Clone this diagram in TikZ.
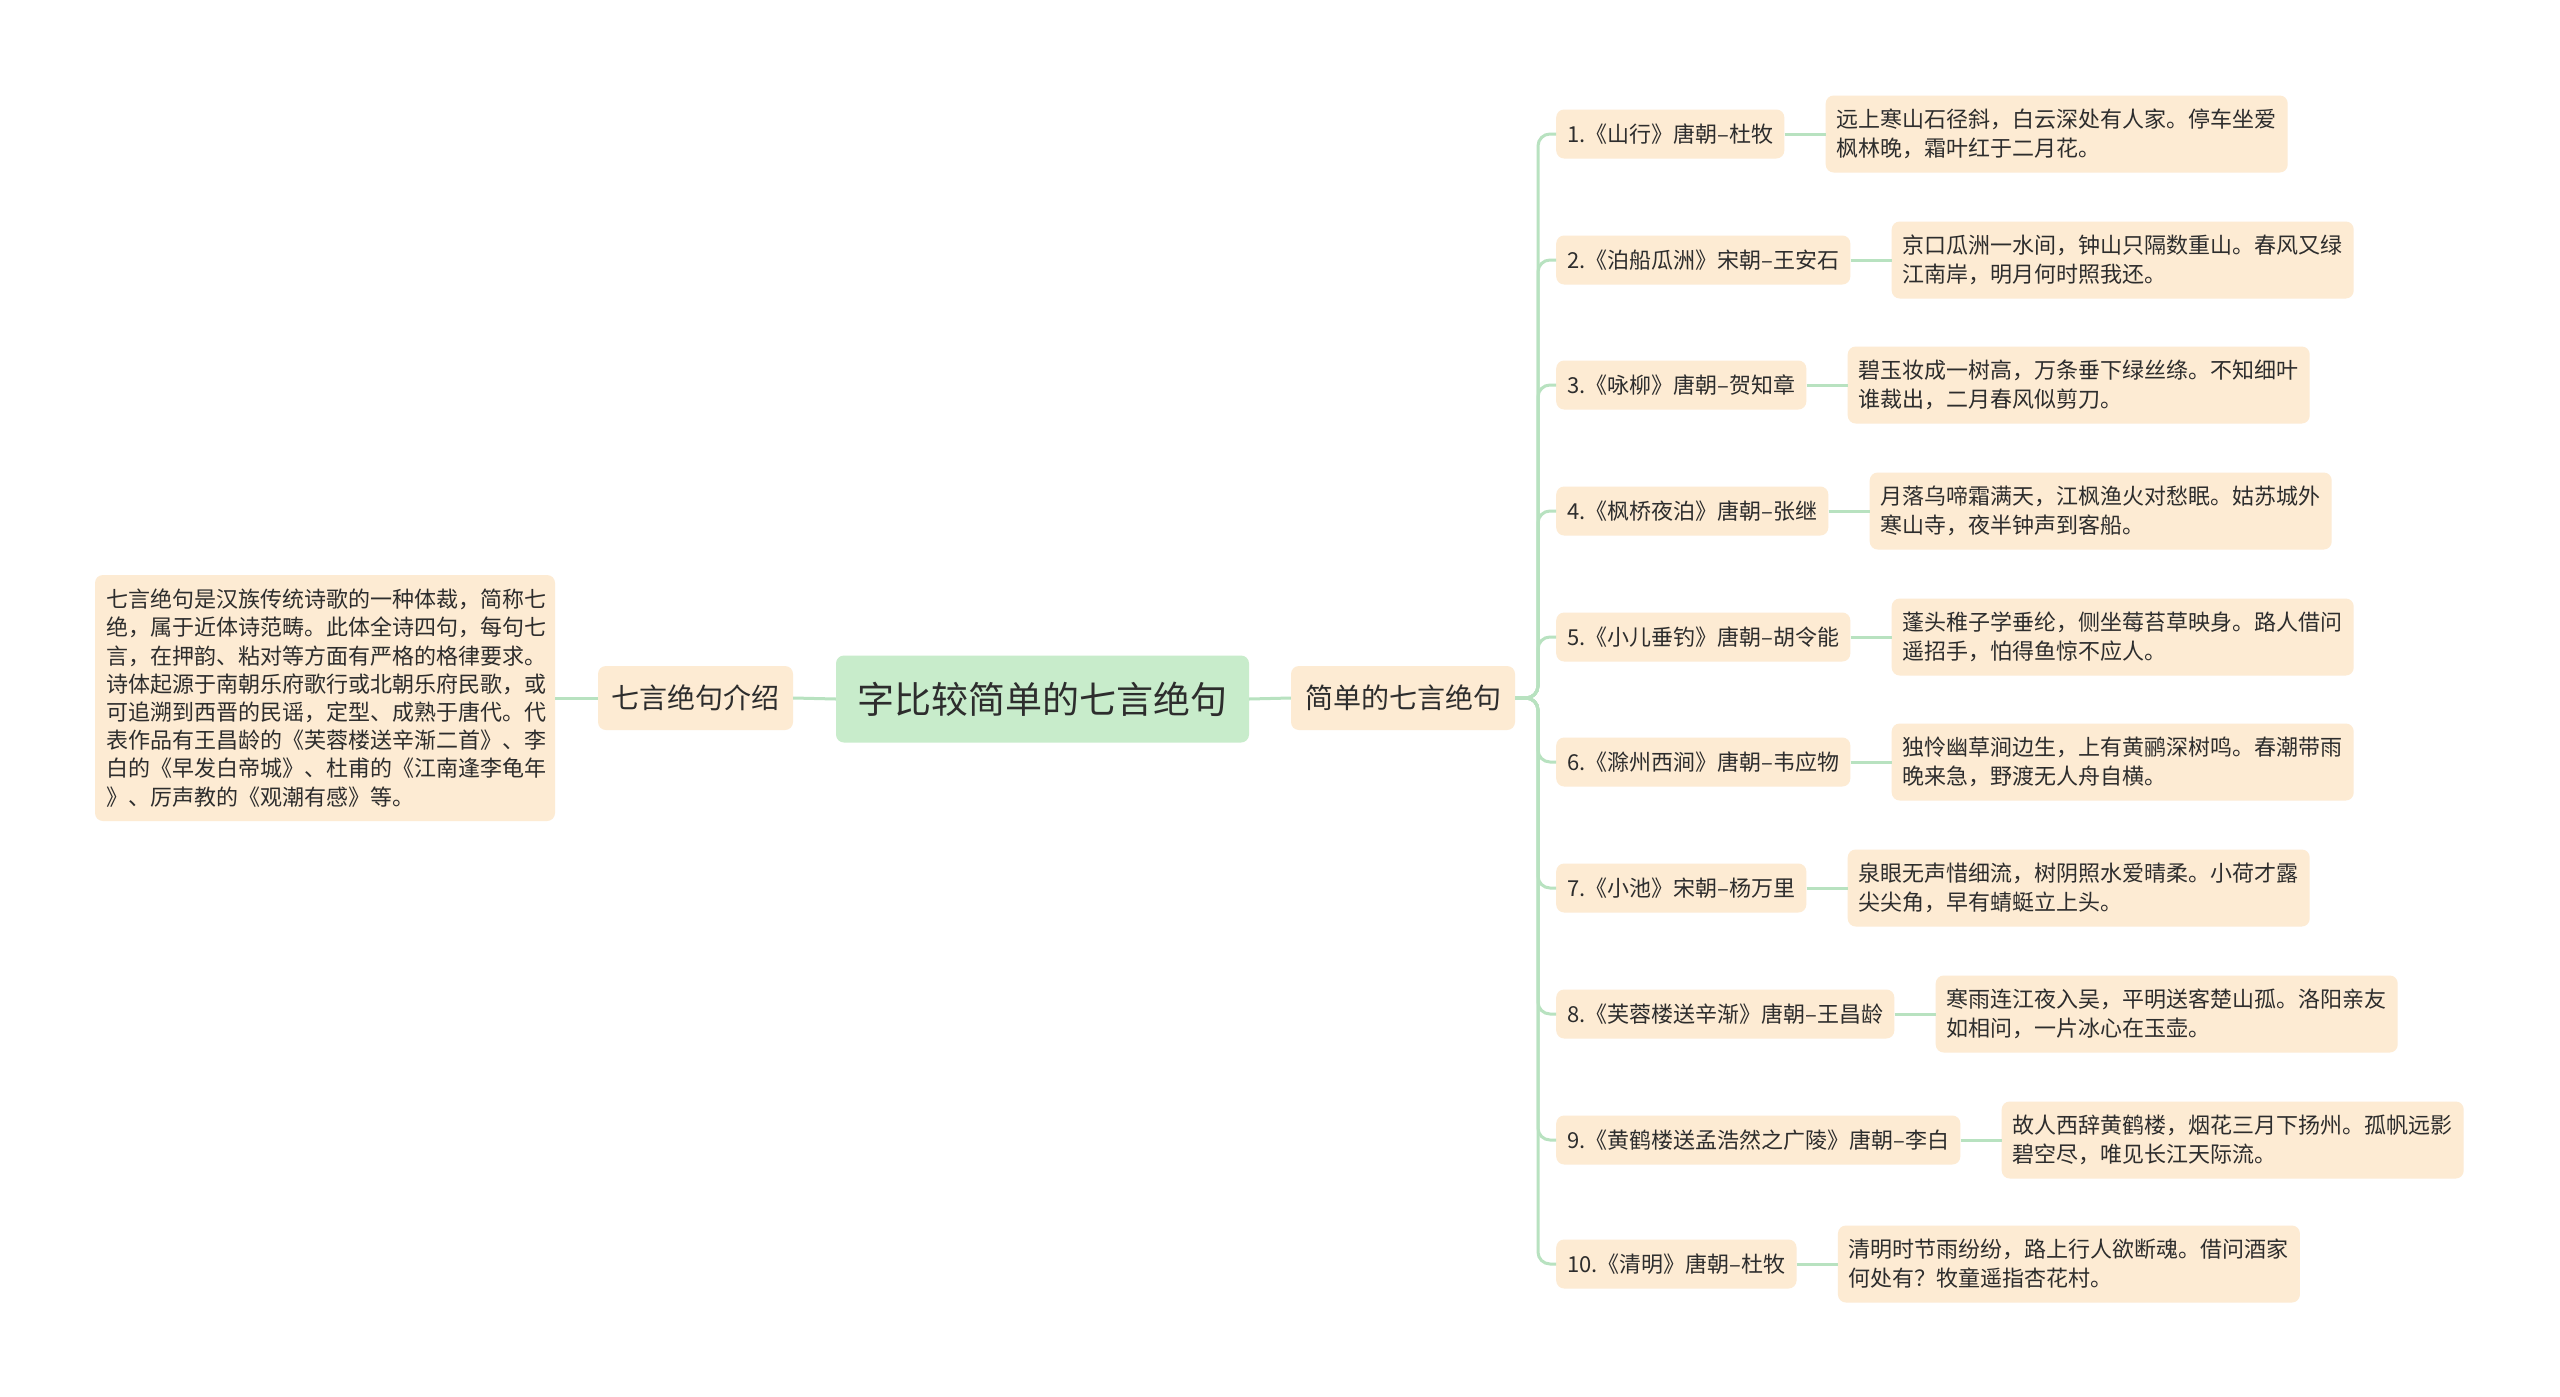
\documentclass[tikz,border=0pt]{standalone}
\usepackage{fontspec}
\setmainfont{Noto Sans CJK SC}
\definecolor{lineg}{RGB}{184,226,192}
\definecolor{peachc}{RGB}{253,235,211}
\definecolor{rootc}{RGB}{200,236,203}
\definecolor{txt}{RGB}{45,45,45}
\begin{document}
\begin{tikzpicture}[x=1pt,y=-1pt,
  conn/.style={draw=lineg, line width=3pt, rounded corners=12pt},
  pbox/.style={fill=peachc, rounded corners=8pt, text=txt},
  itembox/.style={pbox, anchor=west, minimum height=49pt, inner xsep=11pt, inner ysep=0pt, font=\fontsize{22}{26}\selectfont},
  poembox/.style={pbox, anchor=west, minimum height=77pt, text width=441pt, inner xsep=10.5pt, inner ysep=6pt, align=left, font=\fontsize{22}{29}\selectfont},
  midbox/.style={pbox, minimum height=64pt, inner sep=0pt, font=\fontsize{28}{34}\selectfont}]
\useasboundingbox (0,0) rectangle (2560,1397);
\fill[white] (0,0) rectangle (2560,1397);

\node[fill=rootc, rounded corners=8pt, text=txt, minimum width=413pt, minimum height=87pt, inner sep=0pt, font=\fontsize{37}{44}\selectfont] (root) at (1042.5,699) {字比较简单的七言绝句};
\node[midbox, minimum width=195pt] (lm) at (695.5,698) {七言绝句介绍};
\node[midbox, minimum width=224pt] (rm) at (1403,698) {简单的七言绝句};
\node[pbox, minimum width=460pt, minimum height=246pt, text width=438pt, inner xsep=11pt, align=left, font=\fontsize{22}{28.2}\selectfont] (desc) at (325,698) {七言绝句是汉族传统诗歌的一种体裁，简称七\\绝，属于近体诗范畴。此体全诗四句，每句七\\言，在押韵、粘对等方面有严格的格律要求。\\诗体起源于南朝乐府歌行或北朝乐府民歌，或\\可追溯到西晋的民谣，定型、成熟于唐代。代\\表作品有王昌龄的《芙蓉楼送辛渐二首》、李\\白的《早发白帝城》、杜甫的《江南逢李龟年\\》、厉声教的《观潮有感》等。};

\draw[conn] (root.west) -- (lm.east);
\draw[conn] (lm.west) -- (desc.east);
\draw[conn] (root.east) -- (rm.west);
\coordinate (bx) at (1538,698);

\node[itembox] (it1) at (1556,134) {1.《山行》唐朝–杜牧};
\node[itembox] (it2) at (1556,260) {2.《泊船瓜洲》宋朝–王安石};
\node[itembox] (it3) at (1556,385) {3.《咏柳》唐朝–贺知章};
\node[itembox] (it4) at (1556,511) {4.《枫桥夜泊》唐朝–张继};
\node[itembox] (it5) at (1556,637) {5.《小儿垂钓》唐朝–胡令能};
\node[itembox] (it6) at (1556,762) {6.《滁州西涧》唐朝–韦应物};
\node[itembox] (it7) at (1556,888) {7.《小池》宋朝–杨万里};
\node[itembox] (it8) at (1556,1014) {8.《芙蓉楼送辛渐》唐朝–王昌龄};
\node[itembox] (it9) at (1556,1140) {9.《黄鹤楼送孟浩然之广陵》唐朝–李白};
\node[itembox] (it10) at (1556,1264) {10.《清明》唐朝–杜牧};

\node[poembox] (po1) at ([xshift=41pt]it1.east) {远上寒山石径斜，白云深处有人家。停车坐爱\\枫林晚，霜叶红于二月花。};
\node[poembox] (po2) at ([xshift=41pt]it2.east) {京口瓜洲一水间，钟山只隔数重山。春风又绿\\江南岸，明月何时照我还。};
\node[poembox] (po3) at ([xshift=41pt]it3.east) {碧玉妆成一树高，万条垂下绿丝绦。不知细叶\\谁裁出，二月春风似剪刀。};
\node[poembox] (po4) at ([xshift=41pt]it4.east) {月落乌啼霜满天，江枫渔火对愁眠。姑苏城外\\寒山寺，夜半钟声到客船。};
\node[poembox] (po5) at ([xshift=41pt]it5.east) {蓬头稚子学垂纶，侧坐莓苔草映身。路人借问\\遥招手，怕得鱼惊不应人。};
\node[poembox] (po6) at ([xshift=41pt]it6.east) {独怜幽草涧边生，上有黄鹂深树鸣。春潮带雨\\晚来急，野渡无人舟自横。};
\node[poembox] (po7) at ([xshift=41pt]it7.east) {泉眼无声惜细流，树阴照水爱晴柔。小荷才露\\尖尖角，早有蜻蜓立上头。};
\node[poembox] (po8) at ([xshift=41pt]it8.east) {寒雨连江夜入吴，平明送客楚山孤。洛阳亲友\\如相问，一片冰心在玉壶。};
\node[poembox] (po9) at ([xshift=41pt]it9.east) {故人西辞黄鹤楼，烟花三月下扬州。孤帆远影\\碧空尽，唯见长江天际流。};
\node[poembox] (po10) at ([xshift=41pt]it10.east) {清明时节雨纷纷，路上行人欲断魂。借问酒家\\何处有？牧童遥指杏花村。};

\foreach \i in {1,...,10} {
  \draw[conn] (rm.east) -- (bx) |- (it\i.west);
  \draw[conn] (it\i.east) -- (po\i.west);
}
\end{tikzpicture}
\end{document}
